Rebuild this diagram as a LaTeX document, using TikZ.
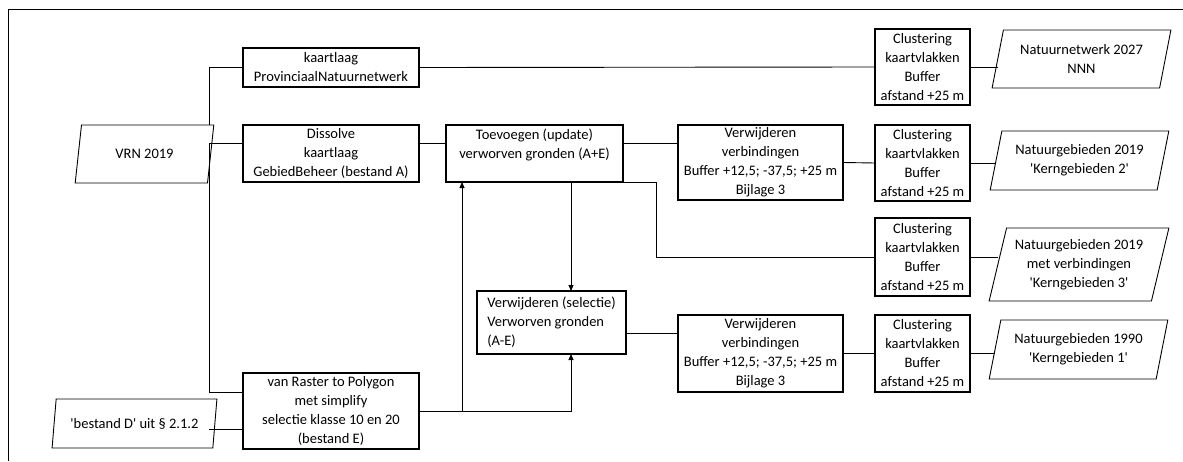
\documentclass[tikz,border=0pt]{standalone}
\usepackage{fontspec}
\setmainfont{Carlito}
\usetikzlibrary{shapes.geometric,arrows.meta}
\newcommand{\kfont}{\fontsize{14.5}{19}\selectfont}
\newcommand{\aq}{\textquotesingle}
\tikzset{
    stap/.style={rectangle,draw,line width=1.2pt,inner sep=0pt,outer sep=0pt,align=center,font=\kfont},
    data/.style={trapezium,trapezium left angle=73,trapezium right angle=107,trapezium stretches=true,
        draw,line width=0.9pt,inner sep=0pt,outer sep=0pt,align=center,font=\kfont},
    lijn/.style={line width=0.9pt},
    pijl/.style={line width=0.9pt,arrows={-Triangle[length=6pt,width=5pt]}},
    }
\begin{document}
\begin{tikzpicture}[x=1pt,y=-1pt]
\useasboundingbox (0,0) rectangle (1183,461);
\draw[lijn] (8,461) -- (8,9) -- (1183,9);

		\node[data,minimum width=139,minimum height=58] (vrn) at (144.5,154) {VRN 2019};
		\node[data,minimum width=165,minimum height=49] (bestd) at (134.5,423.5) {\aq bestand D\aq\ uit \S\ 2.1.2};
		\node[stap,minimum width=176,minimum height=39] (prov) at (331,67.5) {kaartlaag\\ProvinciaalNatuurnetwerk};
		\node[stap,minimum width=176,minimum height=57] (diss) at (331,153.5) {Dissolve\\kaartlaag\\GebiedBeheer (bestand A)};
		\node[stap,minimum width=176,minimum height=76] (raster) at (331,411) {van Raster to Polygon\\met simplify\\selectie klasse 10 en 20\\(bestand E)};
		\node[stap,minimum width=177,minimum height=57] (toev) at (534.5,153.5) {Toevoegen (update)\\verworven gronden (A+E)\\\mbox{}};
		\node[stap,align=left,minimum width=149,minimum height=63] (selec) at (551.5,322.5) {Verwijderen (selectie)\\Verworven gronden\\(A-E)};
		\node[stap,minimum width=165,minimum height=75] (verw1) at (760.5,162.5) {Verwijderen\\verbindingen\\Buffer +12,5; -37,5; +25 m\\Bijlage 3};
		\node[stap,minimum width=165,minimum height=77] (verw2) at (760.5,353.5) {Verwijderen\\verbindingen\\Buffer +12,5; -37,5; +25 m\\Bijlage 3};
		\node[stap,minimum width=95,minimum height=76] (clus1) at (922.5,67) {Clustering\\kaartvlakken\\Buffer\\afstand +25 m};
		\node[stap,minimum width=95,minimum height=76] (clus2) at (922.5,163) {Clustering\\kaartvlakken\\Buffer\\afstand +25 m};
		\node[stap,minimum width=95,minimum height=78] (clus3) at (922.5,257) {Clustering\\kaartvlakken\\Buffer\\afstand +25 m};
		\node[stap,minimum width=95,minimum height=77] (clus4) at (922.5,353.5) {Clustering\\kaartvlakken\\Buffer\\afstand +25 m};
		\node[data,minimum width=179,minimum height=58] (nnn) at (1081.5,59) {Natuurnetwerk 2027\\NNN};
		\node[data,minimum width=179,minimum height=59] (kern2) at (1079.5,160.5) {Natuurgebieden 2019\\\aq Kerngebieden 2\aq};
		\node[data,minimum width=180,minimum height=73] (kern3) at (1079,264.5) {Natuurgebieden 2019\\met verbindingen\\\aq Kerngebieden 3\aq};
		\node[data,minimum width=179,minimum height=59] (kern1) at (1078.5,349.5) {Natuurgebieden 1990\\\aq Kerngebieden 1\aq};

		\coordinate (stam) at (209,0);
		\coordinate (splits) at (462,0);
		\coordinate (pijlx) at (571,0);
		\coordinate (knik) at (656,0);
		\coordinate (rij2) at (0,143);
		\coordinate (rij4) at (0,333);
		\coordinate (rij5) at (0,392);
		\coordinate (rij7) at (0,429);

	\draw[lijn] (prov.west) -| (stam |- vrn.north);
	\draw[lijn] (diss.west |- rij2) -- (stam |- rij2) |- (raster.west |- rij5);
	\draw[lijn] (stam |- rij7) -- (raster.west |- rij7);
	\draw[lijn] (prov.east) -- (clus1.west);
	\draw[lijn] (diss.east |- rij2) -- (toev.west |- rij2);
	\draw[lijn] (toev.east |- rij2) -- (verw1.west |- rij2);
	\draw[lijn] (verw1.east) -- (clus2.west);
	\draw[lijn] (toev.south east) -| (knik |- clus3.west) -- (clus3.west);
	\draw[lijn] (selec.east |- rij4) -- (verw2.west |- rij4);
	\draw[lijn] (verw2.east) -- (clus4.west);
	\draw[lijn] (clus1.east) -- (clus1.east -| nnn.west);
	\draw[lijn] (clus2.east) -- (clus2.east -| kern2.west);
	\draw[lijn] (clus3.east) -- (clus3.east -| kern3.west);
	\draw[lijn] (clus4.east) -- (clus4.east -| kern1.west);

	\draw[pijl] (pijlx |- toev.south) -- (pijlx |- selec.north);
	\draw[pijl] (raster.east) -| (pijlx |- selec.south);
	\draw[pijl] (splits |- raster.east) -- (splits |- toev.south);
\end{tikzpicture}
\end{document}
